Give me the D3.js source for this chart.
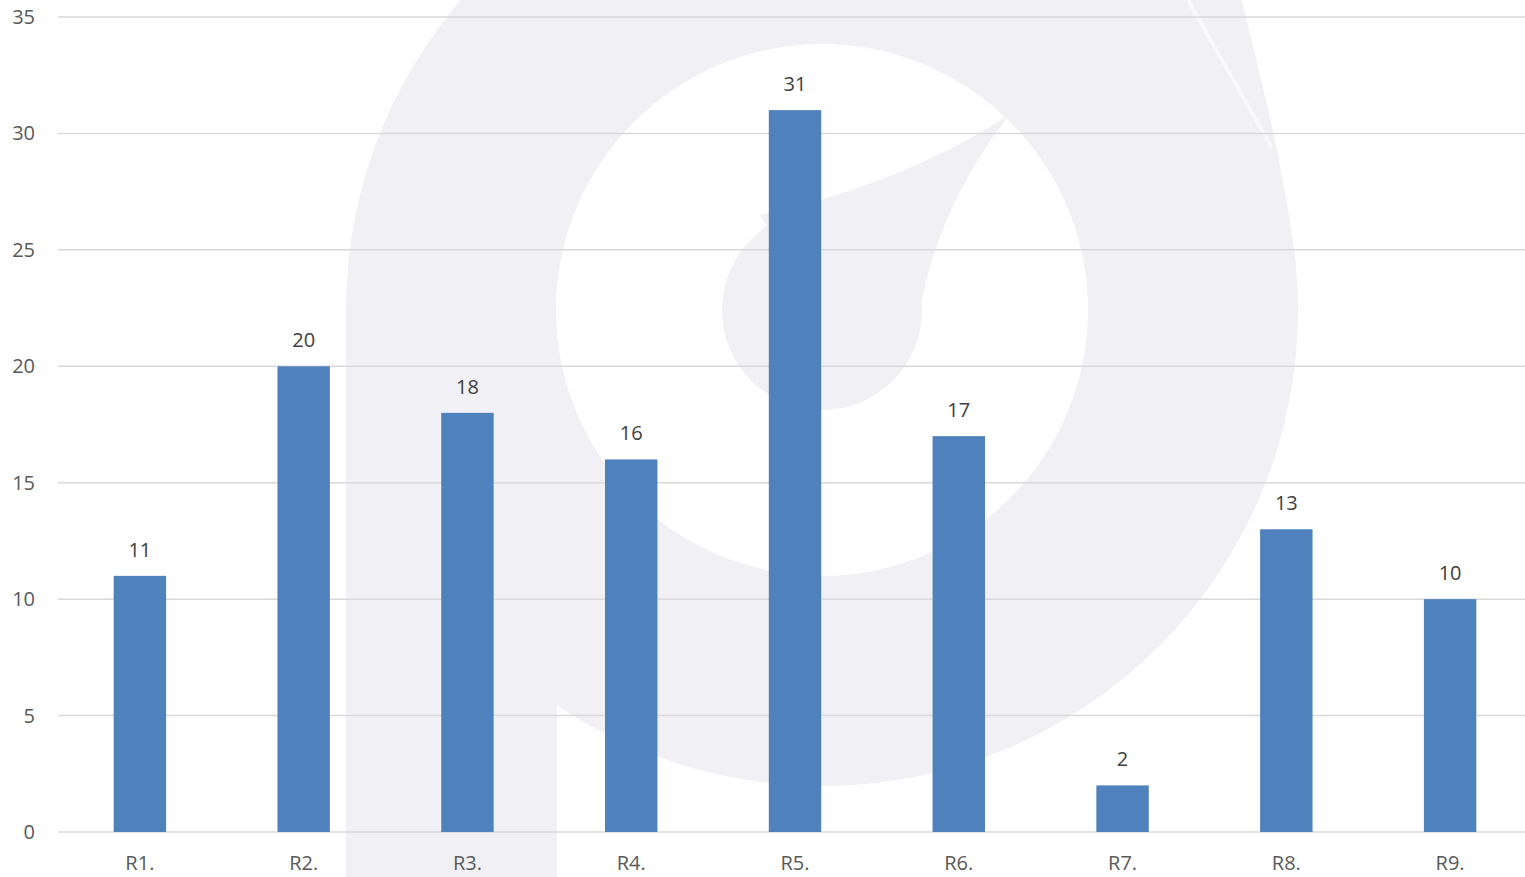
<!DOCTYPE html>
<html><head><meta charset="utf-8">
<script src="https://cdn.jsdelivr.net/npm/d3@7"></script>
<style>body{margin:0;background:#fff;overflow:hidden;}svg{display:block;}</style>
</head><body>
<script>
const categories = ["R1.","R2.","R3.","R4.","R5.","R6.","R7.","R8.","R9."];
const values = [11,20,18,16,31,17,2,13,10];
const yTicks = [0,5,10,15,20,25,30,35];

const W = 1525, H = 877;
const svg = d3.select("body").append("svg").attr("width", W).attr("height", H);

// watermark
const wm = svg.append("g");
const wc = "#f0f0f5";
wm.append("path").attr("d", "M1150,0 L1242,0 C1258,70 1278,140 1291,230 L1200,200 Z").attr("fill", wc);
wm.append("circle").attr("cx", 822).attr("cy", 310).attr("r", 476).attr("fill", wc);
wm.append("line").attr("x1", 1188).attr("y1", 0).attr("x2", 1272).attr("y2", 148)
  .attr("stroke", "#f9f9fb").attr("stroke-width", 4);
wm.append("rect").attr("x", 346).attr("y", 300).attr("width", 211).attr("height", 577).attr("fill", wc);
wm.append("circle").attr("cx", 822).attr("cy", 310).attr("r", 266).attr("fill", "#fff");
wm.append("circle").attr("cx", 822).attr("cy", 310).attr("r", 100).attr("fill", wc);
wm.append("path").attr("d", "M760,215 C860,195 960,150 1012,112 C965,170 932,240 920,310 L820,310 Z").attr("fill", wc);

const x = d3.scaleBand().domain(categories).range([58, 1532]).paddingInner(0.68).paddingOuter(0.34);
const y = d3.scaleLinear().domain([0, 35]).range([832, 17]);

const font = "'Open Sans', 'Noto Sans', sans-serif";

// grid
svg.append("g").selectAll("line").data(yTicks).join("line")
  .attr("x1", 58).attr("x2", 1525)
  .attr("y1", d => y(d)).attr("y2", d => y(d))
  .attr("stroke", "#d9d9d9").attr("stroke-width", 1.5);

// y labels
svg.append("g").selectAll("text").data(yTicks).join("text")
  .attr("x", 35).attr("y", d => y(d)).attr("dy", "0.35em")
  .attr("text-anchor", "end").attr("font-family", font).attr("font-size", 20)
  .attr("fill", "#595959").text(d => d);

// bars
svg.append("g").selectAll("rect").data(values).join("rect")
  .attr("x", (d, i) => x(categories[i]))
  .attr("width", x.bandwidth())
  .attr("y", d => y(d))
  .attr("height", d => y(0) - y(d))
  .attr("fill", "#4f81bd");

// data labels
svg.append("g").selectAll("text").data(values).join("text")
  .attr("x", (d, i) => x(categories[i]) + x.bandwidth() / 2)
  .attr("y", d => y(d) - 19)
  .attr("text-anchor", "middle").attr("font-family", font).attr("font-size", 20)
  .attr("fill", "#404040").text(d => d);

// x labels
svg.append("g").selectAll("text").data(categories).join("text")
  .attr("x", d => x(d) + x.bandwidth() / 2)
  .attr("y", 870)
  .attr("text-anchor", "middle").attr("font-family", font).attr("font-size", 20)
  .attr("fill", "#595959").text(d => d);
</script>
</body></html>
